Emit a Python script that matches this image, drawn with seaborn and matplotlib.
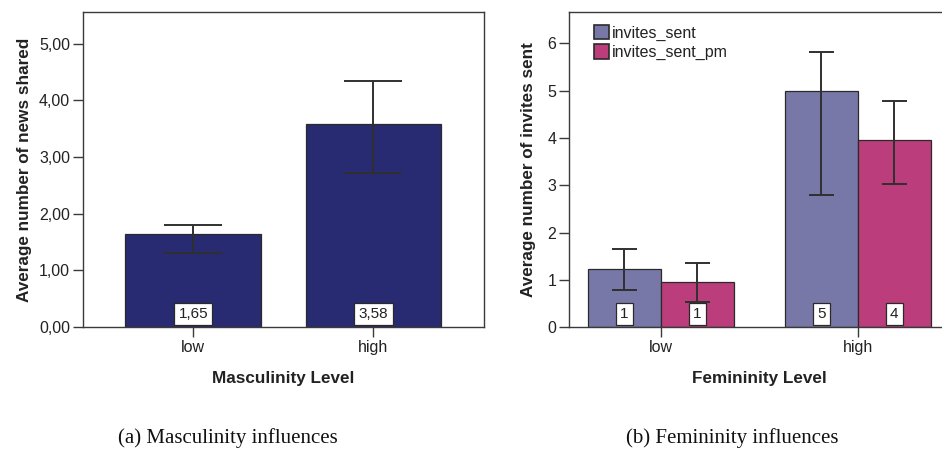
import matplotlib
matplotlib.use("Agg")
import matplotlib.pyplot as plt
from matplotlib.ticker import FuncFormatter, MultipleLocator
from matplotlib.patches import Patch
import seaborn as sns
import pandas as pd
import numpy as np

# ---- data ----
levels = ["low", "high"]

# (a) news shared by masculinity level
news_mean = [1.65, 3.58]
news_err_low = [1.31, 2.72]
news_err_high = [1.80, 4.34]

# (b) invites sent by femininity level
series = ["invites_sent", "invites_sent_pm"]
invites_mean = {"invites_sent": [1.23, 4.99], "invites_sent_pm": [0.95, 3.96]}
invites_err_low = {"invites_sent": [0.79, 2.79], "invites_sent_pm": [0.54, 3.02]}
invites_err_high = {"invites_sent": [1.66, 5.82], "invites_sent_pm": [1.36, 4.79]}

navy = "#282a72"
palette = {"invites_sent": "#7878a8", "invites_sent_pm": "#bb3d7b"}
edge = "#2a2a2a"
ink = "#222222"

sns.set_theme(style="white")
plt.rcParams["font.family"] = ["Liberation Sans", "DejaVu Sans"]

fig = plt.figure(figsize=(9.42, 4.53), dpi=100)
ax1 = fig.add_axes([0.0878, 0.278, 0.426, 0.696])
ax2 = fig.add_axes([0.604, 0.278, 0.404, 0.696])


def comma(v, pos=None):
    return f"{v:.2f}".replace(".", ",")


def style_axes(ax):
    for s in ax.spines.values():
        s.set_visible(True)
        s.set_color("#3a3a3a")
        s.set_linewidth(1.0)
    ax.tick_params(axis="both", direction="out", length=7, width=1.0,
                   color="#3a3a3a", labelsize=11.5, labelcolor=ink,
                   bottom=True, left=True, pad=2)
    ax.grid(False)


def value_box(ax, x, text):
    ax.annotate(text, xy=(x, 0), xytext=(0, 4.5), textcoords="offset points",
                ha="center", va="bottom", fontsize=11, color=ink,
                bbox=dict(boxstyle="square,pad=0.28", fc="white", ec=edge, lw=0.9))


label_kw = dict(fontsize=12.3, fontweight="bold", color=ink)

# ---- (a) ----
df1 = pd.DataFrame({"level": levels, "mean": news_mean})
sns.barplot(data=df1, x="level", y="mean", color=navy, width=0.754,
            edgecolor=edge, linewidth=0.9, saturation=1, errorbar=None, ax=ax1)
centers1 = [p.get_x() + p.get_width() / 2 for p in ax1.patches]
m = np.array(news_mean)
ax1.errorbar(centers1, m, yerr=[m - np.array(news_err_low), np.array(news_err_high) - m],
             fmt="none", ecolor="#303030", elinewidth=1.4, capsize=21, capthick=1.4, zorder=4)
for x, v in zip(centers1, news_mean):
    value_box(ax1, x, comma(v))
ax1.set_xlim(-0.613, 1.613)
ax1.set_ylim(0, 5.56)
ax1.yaxis.set_major_locator(MultipleLocator(1))
ax1.yaxis.set_major_formatter(FuncFormatter(comma))
ax1.set_xlabel("Masculinity Level", labelpad=12, **label_kw)
ax1.set_ylabel("Average number of news shared", labelpad=5, **label_kw)
style_axes(ax1)

# ---- (b) ----
rows = []
for s in series:
    for lvl, v in zip(levels, invites_mean[s]):
        rows.append({"level": lvl, "series": s, "mean": v})
df2 = pd.DataFrame(rows)
sns.barplot(data=df2, x="level", y="mean", hue="series", hue_order=series,
            palette=palette, width=0.741, gap=0, edgecolor=edge, linewidth=0.9,
            saturation=1, errorbar=None, legend=False, ax=ax2)
bars = [p for p in ax2.patches if p.get_height() > 0]
bars.sort(key=lambda p: p.get_x())
order = [("invites_sent", 0), ("invites_sent_pm", 0), ("invites_sent", 1), ("invites_sent_pm", 1)]
for p, (s, i) in zip(bars, order):
    x = p.get_x() + p.get_width() / 2
    v = invites_mean[s][i]
    ax2.errorbar([x], [v], yerr=[[v - invites_err_low[s][i]], [invites_err_high[s][i] - v]],
                 fmt="none", ecolor="#303030", elinewidth=1.4, capsize=9, capthick=1.4, zorder=4)
    value_box(ax2, x, f"{v:.0f}")
ax2.set_xlim(-0.465, 1.465)
ax2.set_ylim(0, 6.67)
ax2.yaxis.set_major_locator(MultipleLocator(1))
ax2.set_xlabel("Femininity Level", labelpad=12, **label_kw)
ax2.set_ylabel("Average number of invites sent", labelpad=8, **label_kw)
style_axes(ax2)
handles = [Patch(facecolor=palette[s], edgecolor=edge, linewidth=1.2, label=s) for s in series]
ax2.legend(handles=handles, loc="upper left", bbox_to_anchor=(0.04, 0.99), frameon=False,
           fontsize=11.5, handlelength=0.95, handleheight=1.05, handletextpad=0.2,
           labelspacing=0.2, borderaxespad=0.2, labelcolor=ink)

# captions
fig.text(0.242, 0.012, "(a) Masculinity influences", ha="center", va="bottom",
         fontsize=15, family=["Liberation Serif", "DejaVu Serif"], color="#111111")
fig.text(0.777, 0.012, "(b) Femininity influences", ha="center", va="bottom",
         fontsize=15, family=["Liberation Serif", "DejaVu Serif"], color="#111111")

fig.savefig("out.png", dpi=100, facecolor="white")
